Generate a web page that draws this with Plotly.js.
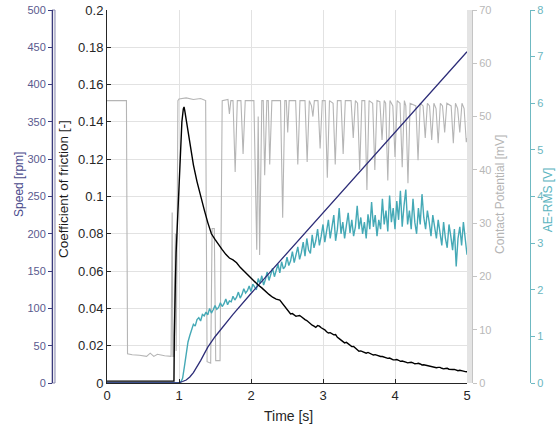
<!DOCTYPE html>
<html><head><meta charset="utf-8">
<script src="https://cdn.plot.ly/plotly-3.0.1.min.js"></script>
<style>html,body{margin:0;padding:0;background:#fff}#chart{width:559px;height:431px}</style>
</head><body><div id="chart"></div>
<script>
// Speed [rpm]
const speedTime = [0, 0.95, 1.0, 1.05, 1.1, 1.15, 1.2, 1.3, 1.4, 1.5, 1.75, 2.0, 2.5, 3.0, 3.5, 4.0, 4.5, 5.0];
const speedVal  = [0, 0, 0.5, 2, 4, 8, 14, 30, 48, 62, 92, 120, 174, 228, 282, 336, 390, 444];

// Coefficient of friction [-]
const cofTime = [0, 0.5, 0.92, 0.93, 0.935, 0.94, 0.945, 0.95, 0.96, 0.98,
  1.0, 1.02, 1.04, 1.06, 1.07, 1.08, 1.1, 1.13, 1.16, 1.2,
  1.25, 1.3, 1.35, 1.4, 1.45, 1.5, 1.55, 1.6, 1.65, 1.7, 1.75, 1.8, 1.85, 1.9, 1.95,
  2.0, 2.05, 2.1, 2.15, 2.2, 2.25, 2.3, 2.35, 2.4, 2.45,
  2.5, 2.525, 2.55, 2.575, 2.6, 2.625, 2.65, 2.675, 2.7, 2.725, 2.75, 2.775, 2.8, 2.825, 2.85, 2.875, 2.9, 2.925, 2.95, 2.975,
  3.0, 3.025, 3.05, 3.075, 3.1, 3.125, 3.15, 3.175, 3.2, 3.225, 3.25, 3.275, 3.3, 3.325, 3.35, 3.375, 3.4, 3.425, 3.45, 3.475,
  3.5, 3.525, 3.55, 3.575, 3.6, 3.625, 3.65, 3.675, 3.7, 3.725, 3.75, 3.775, 3.8, 3.825, 3.85, 3.875, 3.9, 3.925, 3.95, 3.975,
  4.0, 4.025, 4.05, 4.075, 4.1, 4.125, 4.15, 4.175, 4.2, 4.225, 4.25, 4.275, 4.3, 4.325, 4.35, 4.375, 4.4, 4.425, 4.45, 4.475,
  4.5, 4.525, 4.55, 4.575, 4.6, 4.625, 4.65, 4.675, 4.7, 4.725, 4.75, 4.775, 4.8, 4.825, 4.85, 4.875, 4.9, 4.925, 4.95, 4.975, 5.0];
const cofVal = [0.001, 0.001, 0.001, 0.001, 0.025, 0.05, 0.03, 0.055, 0.07, 0.09,
  0.11, 0.128, 0.14, 0.147, 0.148, 0.146, 0.141, 0.134, 0.126, 0.117,
  0.108, 0.1, 0.093, 0.086, 0.08, 0.077, 0.074, 0.0715, 0.069, 0.067, 0.066, 0.0645, 0.062, 0.06, 0.058,
  0.0565, 0.054, 0.0525, 0.051, 0.049, 0.0475, 0.046, 0.045, 0.0445, 0.042,
  0.0395, 0.0385, 0.037, 0.0372, 0.0365, 0.0358, 0.036, 0.0362, 0.0355, 0.0345, 0.034, 0.0335, 0.0325, 0.0318, 0.031, 0.0305, 0.0298, 0.0308, 0.0305, 0.0296,
  0.0292, 0.0285, 0.0275, 0.0268, 0.027, 0.0262, 0.0258, 0.026, 0.0245, 0.0238, 0.023, 0.0222, 0.0215, 0.0218, 0.021, 0.0202, 0.0195, 0.0196, 0.0188, 0.0178,
  0.017, 0.0172, 0.0168, 0.0162, 0.016, 0.0164, 0.0158, 0.0152, 0.015, 0.0152, 0.0148, 0.0143, 0.0142, 0.0142, 0.0138, 0.0133, 0.0132, 0.0134, 0.0128, 0.0124,
  0.0124, 0.0126, 0.0122, 0.0116, 0.0118, 0.0117, 0.0112, 0.0108, 0.011, 0.0111, 0.0108, 0.0103, 0.0104, 0.0106, 0.0102, 0.0097, 0.0098, 0.0096, 0.0092, 0.0091,
  0.0088, 0.0089, 0.0087, 0.0082, 0.0084, 0.0084, 0.0079, 0.0076, 0.0078, 0.0079, 0.0074, 0.0071, 0.0072, 0.0073, 0.0069, 0.0066, 0.0068, 0.0067, 0.0064, 0.0061, 0.006];

// Contact Potential [mV]
const cpTime = [0, 0.27, 0.285, 0.35, 0.45, 0.55, 0.6, 0.65, 0.7, 0.8,
  0.89, 0.905, 0.915, 0.93, 0.95, 0.96, 0.97, 0.985, 1.0, 1.1,
  1.2, 1.3, 1.37, 1.39, 1.44, 1.46, 1.49, 1.51, 1.57, 1.6,
  1.68, 1.7, 1.72, 1.75, 1.78, 1.81, 1.86, 1.89, 1.92, 2.04,
  2.08, 2.1, 2.12, 2.15, 2.17, 2.19, 2.22, 2.24, 2.26, 2.29,
  2.41, 2.44, 2.47, 2.49, 2.51, 2.53, 2.62, 2.65, 2.68, 2.75,
  2.78, 2.81, 2.84, 2.86, 2.88, 2.93, 2.96, 2.99, 3.03, 3.06,
  3.09, 3.14, 3.17, 3.2, 3.25, 3.28, 3.31, 3.39, 3.42, 3.45,
  3.48, 3.51, 3.54, 3.58, 3.61, 3.64, 3.69, 3.72, 3.75, 3.79,
  3.82, 3.85, 3.87, 3.9, 3.93, 3.97, 4.0, 4.03, 4.07, 4.1,
  4.13, 4.15, 4.18, 4.21, 4.29, 4.32, 4.35, 4.39, 4.42, 4.45,
  4.48, 4.51, 4.54, 4.57, 4.6, 4.63, 4.66, 4.69, 4.72, 4.78,
  4.81, 4.84, 4.87, 4.9, 4.93, 4.96, 4.99, 5.0];
const cpVal = [53, 53, 5.5, 5.3, 5.2, 5.0, 5.6, 5.0, 5.4, 5.1,
  5.0, 32, 5, 5, 28, 6, 20, 53, 53.3, 53.5,
  53.2, 53.4, 53, 4, 3.7, 29, 29, 4.2, 4.2, 53,
  53.2, 50.5, 53, 53, 39.6, 53, 53, 43, 53, 53,
  25, 50, 24, 53, 53, 39, 53, 53, 41, 53,
  53, 31, 53, 53, 47, 53, 53, 41, 53, 53,
  41.5, 53, 52, 50, 53, 53, 44, 53, 53, 38.5,
  53, 52.5, 41, 53, 53, 43, 53, 53, 46, 53,
  52.5, 40, 53, 53, 36.2, 53, 52.5, 40, 53, 52.8,
  45.6, 53, 52.5, 38, 53, 52, 42.4, 53, 52.5, 40.5,
  53, 52, 37.5, 52.5, 52, 41.8, 52.5, 52, 46, 52.5,
  52, 45.6, 52.5, 51.5, 45, 52.5, 52, 47, 52.5, 52,
  45, 52.5, 51.5, 47, 52.5, 51.5, 45.2, 46];

// AE-RMS [V]
const aeTime = [0, 0.95,
  1.000, 1.025, 1.050, 1.075, 1.100, 1.125, 1.150, 1.175, 1.200, 1.225, 1.250, 1.275, 1.300, 1.325, 1.350, 1.375, 1.400, 1.425, 1.450, 1.475,
  1.500, 1.525, 1.550, 1.575, 1.600, 1.625, 1.650, 1.675, 1.700, 1.725, 1.750, 1.775, 1.800, 1.825, 1.850, 1.875, 1.900, 1.925, 1.950, 1.975,
  2.000, 2.025, 2.050, 2.075, 2.100, 2.125, 2.150, 2.175, 2.200, 2.225, 2.250, 2.275, 2.300, 2.325, 2.350, 2.375, 2.400, 2.425, 2.450, 2.475,
  2.500, 2.525, 2.550, 2.575, 2.600, 2.625, 2.650, 2.675, 2.700, 2.725, 2.750, 2.775, 2.800, 2.825, 2.850, 2.875, 2.900, 2.925, 2.950, 2.975,
  3.000, 3.025, 3.050, 3.075, 3.100, 3.125, 3.150, 3.175, 3.200, 3.225, 3.250, 3.275, 3.300, 3.325, 3.350, 3.375, 3.400, 3.425, 3.450, 3.475,
  3.500, 3.525, 3.550, 3.575, 3.600, 3.625, 3.650, 3.675, 3.700, 3.725, 3.750, 3.775, 3.800, 3.825, 3.850, 3.875, 3.900, 3.925, 3.950, 3.975,
  4.000, 4.025, 4.050, 4.075, 4.100, 4.125, 4.150, 4.175, 4.200, 4.225, 4.250, 4.275, 4.300, 4.325, 4.350, 4.375, 4.400, 4.425, 4.450, 4.475,
  4.500, 4.525, 4.550, 4.575, 4.600, 4.625, 4.650, 4.675, 4.700, 4.725, 4.750, 4.775, 4.800, 4.825, 4.850, 4.875, 4.900, 4.925, 4.950, 4.975, 5.000];
const aeVal = [0, 0,
  0, 0.02, 0.1, 0.35, 0.62, 0.88, 1.02, 1.12, 1.26, 1.22, 1.36, 1.4, 1.33, 1.47, 1.44, 1.52, 1.46, 1.6, 1.5, 1.57,
  1.66, 1.58, 1.62, 1.72, 1.64, 1.7, 1.8, 1.68, 1.76, 1.74, 1.86, 1.78, 1.84, 1.95, 1.82, 1.9, 2.02, 1.93, 1.98, 2.08,
  1.96, 2.12, 2.05, 2.0, 2.24, 2.14, 2.3, 2.1, 2.22, 2.38, 2.2, 2.32, 2.46, 2.28, 2.4, 2.55, 2.36, 2.6, 2.45, 2.5,
  2.7, 2.52, 2.62, 2.82, 2.58, 2.75, 2.92, 2.65, 2.8, 3.02, 2.72, 3.1, 2.85, 2.78, 3.18, 2.9, 3.05, 3.3, 2.95, 3.15,
  3.4, 3.02, 3.25, 3.5, 3.1, 3.35, 3.6, 3.05, 3.3, 3.75, 3.2, 3.45, 3.1, 3.38, 3.65, 3.22, 3.5, 3.15, 3.35, 3.8,
  3.3, 3.55, 3.2, 3.45, 3.1, 3.62, 3.3, 3.88, 3.35, 3.6, 3.15, 3.5, 3.3, 3.95, 3.4, 3.7, 3.25, 4.02, 3.45, 3.75,
  3.3, 3.9, 3.5, 4.12, 3.35, 3.8, 4.15, 3.4, 3.7, 3.3, 3.95, 3.45, 3.2, 3.75, 3.4, 4.05, 3.55, 3.3, 3.7, 3.45,
  3.15, 3.6, 3.3, 3.1, 3.5, 3.2, 2.95, 3.45, 3.1, 2.9, 3.4, 3.15, 2.85, 3.3, 2.5, 3.1, 3.35, 2.95, 3.45, 3.1, 2.75];

const W = 559;
const FONT = '"Liberation Sans", Arial, sans-serif';
const cofTicks = [0, 0.02, 0.04, 0.06, 0.08, 0.1, 0.12, 0.14, 0.16, 0.18, 0.2];
const cofTickText = ['0', '0.02', '0.04', '0.06', '0.08', '0.1', '0.12', '0.14', '0.16', '0.18', '0.2'];

const traces = [
  {x: cpTime, y: cpVal, yaxis: 'y', type: 'scatter', mode: 'lines', line: {color: '#b5b5b5', width: 1.1}, hoverinfo: 'skip'},
  {x: aeTime, y: aeVal, yaxis: 'y2', type: 'scatter', mode: 'lines', line: {color: '#45a9b6', width: 1.4}, hoverinfo: 'skip'},
  {x: speedTime, y: speedVal, yaxis: 'y3', type: 'scatter', mode: 'lines', line: {color: '#2d2d78', width: 1.3}, hoverinfo: 'skip'},
  {x: cofTime, y: cofVal, yaxis: 'y4', type: 'scatter', mode: 'lines', line: {color: '#000000', width: 1.4}, hoverinfo: 'skip'}
];

const layout = {
  width: 559, height: 431,
  margin: {l: 0, r: 0, t: 10, b: 48},
  paper_bgcolor: '#ffffff', plot_bgcolor: '#ffffff',
  showlegend: false,
  font: {family: FONT, color: '#262626'},
  xaxis: {
    domain: [107 / W, 467 / W], range: [0, 5], tickvals: [0, 1, 2, 3, 4, 5],
    showgrid: true, gridcolor: '#e2e2e2', gridwidth: 1, zeroline: false,
    showline: true, linecolor: '#262626', linewidth: 1,
    ticks: 'inside', ticklen: 4, tickcolor: '#262626',
    tickfont: {size: 13, color: '#262626', family: FONT}, automargin: false
  },
  yaxis: {
    anchor: 'free', position: 472 / W, side: 'right', range: [0, 70], tickvals: [0, 10, 20, 30, 40, 50, 60, 70],
    showgrid: false, zeroline: false, showline: true, linecolor: '#c4c4c4', linewidth: 1,
    ticks: 'outside', ticklen: 4, tickcolor: '#c4c4c4',
    tickfont: {size: 11, color: '#b8b8b8', family: FONT}, automargin: false
  },
  yaxis2: {
    overlaying: 'y', anchor: 'free', position: 530 / W, side: 'right', range: [0, 8], tickvals: [0, 1, 2, 3, 4, 5, 6, 7, 8],
    showgrid: false, zeroline: false, showline: true, linecolor: '#6fb9c2', linewidth: 1,
    ticks: 'outside', ticklen: 4, tickcolor: '#6fb9c2',
    tickfont: {size: 11, color: '#6ab6c0', family: FONT}, automargin: false
  },
  yaxis3: {
    overlaying: 'y', anchor: 'free', position: 52 / W, side: 'left', range: [0, 500],
    tickvals: [0, 50, 100, 150, 200, 250, 300, 350, 400, 450, 500],
    showgrid: false, zeroline: false, showline: true, linecolor: '#3b3b7c', linewidth: 1,
    ticks: 'outside', ticklen: 4, tickcolor: '#3b3b7c',
    tickfont: {size: 11, color: '#5a5a8e', family: FONT}, automargin: false
  },
  yaxis4: {
    overlaying: 'y', anchor: 'x', side: 'left', range: [0, 0.2],
    tickvals: cofTicks, ticktext: cofTickText,
    showgrid: true, gridcolor: '#e2e2e2', gridwidth: 1, zeroline: false,
    showline: true, linecolor: '#262626', linewidth: 1,
    ticks: 'inside', ticklen: 4, tickcolor: '#262626',
    tickfont: {size: 13, color: '#262626', family: FONT}, automargin: false
  },
  shapes: [
    {type: 'rect', xref: 'paper', yref: 'paper', x0: 467 / W, x1: 472 / W, y0: 0, y1: 1,
     fillcolor: '#e4e4e4', line: {width: 0}, layer: 'below'},
    {type: 'rect', xref: 'paper', yref: 'paper', x0: 52 / W, x1: 55 / W, y0: 0, y1: 1,
     fillcolor: '#ececf2', line: {color: '#8a8ab0', width: 1}, layer: 'below'}
  ],
  annotations: [
    {text: 'Speed [rpm]', xref: 'paper', yref: 'paper', x: 19 / W, y: 0.531, textangle: -90,
     showarrow: false, xanchor: 'center', yanchor: 'middle', font: {size: 12, color: '#4a4a8c', family: FONT}},
    {text: 'Coefficient of friction [-]', xref: 'paper', yref: 'paper', x: 63 / W, y: 0.52, textangle: -90,
     showarrow: false, xanchor: 'center', yanchor: 'middle', font: {size: 13.5, color: '#1a1a1a', family: FONT}},
    {text: 'Contact Potential [mV]', xref: 'paper', yref: 'paper', x: 500 / W, y: 0.504, textangle: -90,
     showarrow: false, xanchor: 'center', yanchor: 'middle', font: {size: 12, color: '#b4b4b4', family: FONT}},
    {text: 'AE-RMS [V]', xref: 'paper', yref: 'paper', x: 548 / W, y: 0.49, textangle: -90,
     showarrow: false, xanchor: 'center', yanchor: 'middle', font: {size: 12, color: '#5ab4c0', family: FONT}},
    {text: 'Time [s]', xref: 'paper', yref: 'paper', x: 289 / W, y: (383 - 416) / 373,
     showarrow: false, xanchor: 'center', yanchor: 'middle', font: {size: 14, color: '#262626', family: FONT}}
  ]
};

Plotly.newPlot('chart', traces, layout, {staticPlot: true, displayModeBar: false});
</script>
</body></html>
